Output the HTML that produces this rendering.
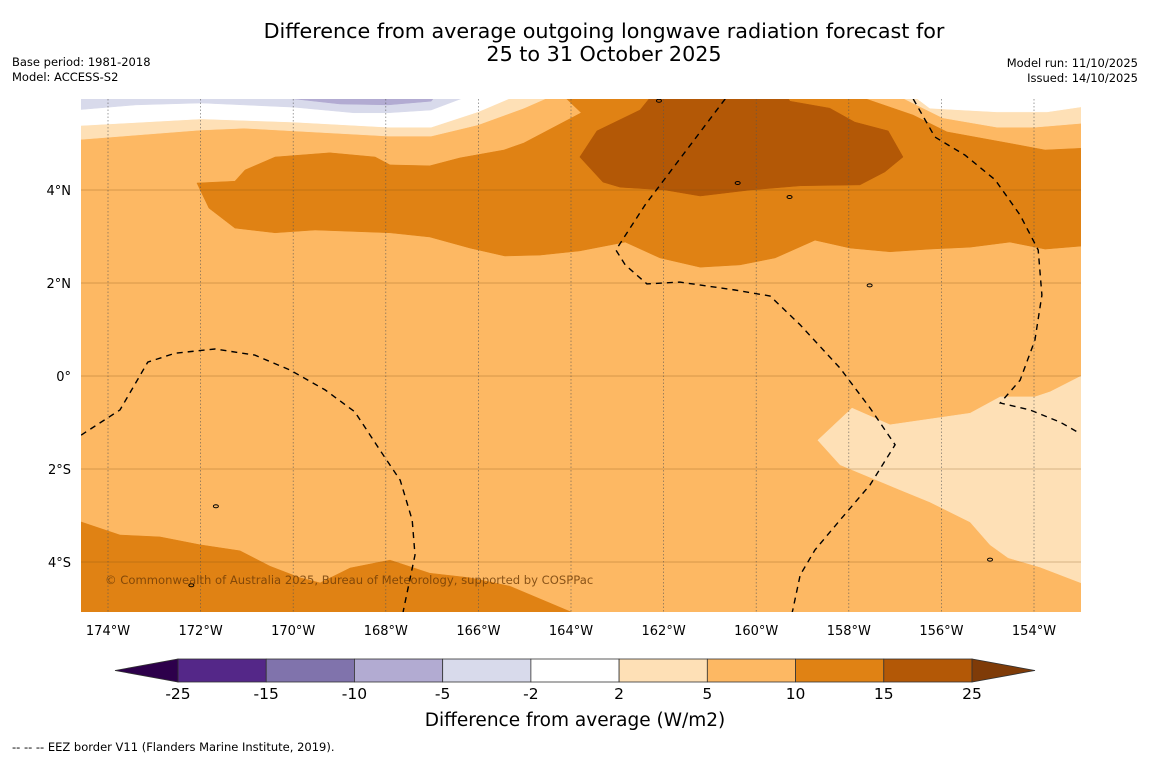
<!DOCTYPE html>
<html><head><meta charset="utf-8">
<style>
html,body{margin:0;padding:0;background:#fff;}
body{width:1150px;height:758px;overflow:hidden;font-family:"DejaVu Sans","Liberation Sans",sans-serif;}
svg text{font-family:"DejaVu Sans","Liberation Sans",sans-serif;}
</style></head>
<body>
<svg id="chart" width="1150" height="758" xmlns="http://www.w3.org/2000/svg">
<rect width="1150" height="758" fill="#fff"/>
<text x="604" y="38" font-size="20.7" text-anchor="middle" fill="#000">Difference from average outgoing longwave radiation forecast for</text>
<text x="604" y="61" font-size="20.7" text-anchor="middle" fill="#000">25 to 31 October 2025</text>
<text x="12" y="66" font-size="11.5">Base period: 1981-2018</text>
<text x="12" y="81" font-size="11.5">Model: ACCESS-S2</text>
<text x="1138" y="67" font-size="11.5" text-anchor="end">Model run: 11/10/2025</text>
<text x="1138" y="82" font-size="11.5" text-anchor="end">Issued: 14/10/2025</text>
<defs><clipPath id="plotclip"><rect x="81" y="99" width="1000" height="513"/></clipPath></defs>
<g id="map" clip-path="url(#plotclip)"></g>
<g id="axes"></g>
<g id="cbar"></g>
<text x="105" y="584" font-size="11.6" fill="#6b3a05" fill-opacity="0.8">© Commonwealth of Australia 2025, Bureau of Meteorology, supported by COSPPac</text>
<text x="575" y="726" font-size="18.5" text-anchor="middle">Difference from average (W/m2)</text>
<text x="12" y="751" font-size="11.5">--  --  -- EEZ border V11 (Flanders Marine Institute, 2019).</text>
</svg>
<script>
const NS="http://www.w3.org/2000/svg";
// axis data
const lonTicks=[-174,-172,-170,-168,-166,-164,-162,-160,-158,-156,-154];
const lonLabels=["174°W","172°W","170°W","168°W","166°W","164°W","162°W","160°W","158°W","156°W","154°W"];
const latTicks=[4,2,0,-2,-4];
const latLabels=["4°N","2°N","0°","2°S","4°S"];
// colorbar data
const cbLevels=["-25","-15","-10","-5","-2","2","5","10","15","25"];
const cbColors=["#542788","#8073ac","#b2abd2","#d8daeb","#ffffff","#fee0b6","#fdb863","#e08214","#b35806"];
const cbUnder="#2d004b", cbOver="#7f3b08";
// contour region data [lon,lat]
const bgColor="#fdb863";
const paleLeft=[[-174.7,5.08],[-171.99,5.29],[-171.06,5.33],[-167.95,5.16],[-167.02,5.16],[-166.01,5.40],[-165.02,5.76],[-164.24,6.1],[-174.7,6.1]];
const paleRight=[[-156.9,6.1],[-156.8,5.96],[-155.97,5.55],[-154.80,5.35],[-153.98,5.35],[-152.9,5.44],[-152.9,6.1]];
const whiteLeft=[[-174.7,5.38],[-171.99,5.53],[-169.98,5.46],[-167.95,5.35],[-167.02,5.35],[-166.01,5.68],[-165.02,6.1],[-174.7,6.1]];
const whiteRight=[[-156.7,6.1],[-156.25,5.76],[-154.80,5.68],[-153.72,5.68],[-152.9,5.8],[-152.9,6.1]];
const lavender=[[-174.7,5.72],[-173.4,5.83],[-171.99,5.87],[-169.98,5.78],[-168.69,5.66],[-167.95,5.66],[-167.02,5.72],[-166.01,6.1],[-174.7,6.1]];
const lilac=[[-169.98,6.1],[-169.98,5.96],[-168.99,5.85],[-167.95,5.83],[-167.02,5.91],[-166.87,6.1]];
const orangeTop=[[-172.08,4.15],[-171.82,3.61],[-171.26,3.18],[-170.39,3.08],[-169.53,3.14],[-167.91,3.08],[-167.05,2.99],[-166.18,2.75],[-165.43,2.58],[-164.67,2.60],[-163.81,2.69],[-162.83,2.88],[-162.08,2.54],[-161.21,2.34],[-160.35,2.39],[-159.59,2.54],[-158.73,2.92],[-157.97,2.75],[-157.11,2.67],[-156.25,2.73],[-155.38,2.77],[-154.52,2.88],[-153.76,2.73],[-152.9,2.80],[-152.9,4.90],[-153.76,4.86],[-154.45,4.99],[-155.88,5.25],[-156.61,5.61],[-158.04,6.1],[-164.24,6.1],[-163.78,5.66],[-165.02,5.01],[-165.45,4.86],[-166.40,4.69],[-167.05,4.52],[-167.91,4.54],[-168.23,4.71],[-169.21,4.80],[-170.39,4.71],[-171.04,4.43],[-171.26,4.19]];
const darkest=[[-163.81,4.71],[-163.44,5.27],[-162.51,5.72],[-162.2,6.1],[-159.4,6.1],[-159.27,5.91],[-158.41,5.76],[-157.87,5.46],[-157.15,5.27],[-156.83,4.71],[-157.22,4.39],[-157.76,4.11],[-159.05,4.09],[-160.13,4.0],[-161.21,3.87],[-161.97,4.0],[-162.94,4.06],[-163.31,4.17]];
const paleLowerRight=[[-152.98,0],[-153.65,-0.34],[-153.98,-0.45],[-154.73,-0.45],[-155.38,-0.80],[-157.11,-1.05],[-157.93,-0.69],[-158.67,-1.38],[-158.19,-1.91],[-156.89,-2.45],[-156.25,-2.71],[-155.38,-3.14],[-154.95,-3.63],[-154.56,-3.91],[-153.87,-4.11],[-152.98,-4.45],[-152.9,-4.45],[-152.9,0]];
const orangeBottom=[[-174.7,-3.10],[-173.74,-3.42],[-172.88,-3.46],[-172.01,-3.63],[-171.15,-3.76],[-170.50,-4.09],[-169.85,-4.34],[-169.42,-4.45],[-168.77,-4.13],[-167.91,-3.96],[-167.05,-4.24],[-166.18,-4.34],[-165.32,-4.52],[-163.70,-5.2],[-174.7,-5.2]];
// EEZ borders
const eezA=[[-160.67,5.96],[-162.40,3.68],[-163.03,2.71],[-162.83,2.39],[-162.36,1.98],[-161.65,2.02],[-160.46,1.85],[-159.70,1.72],[-159.05,1.10],[-158.19,0.17],[-157.54,-0.69],[-157.00,-1.48],[-157.54,-2.34],[-158.19,-3.10],[-158.73,-3.74],[-159.05,-4.28],[-159.21,-5.03],[-159.25,-5.2]];
const eezB=[[-156.61,5.96],[-156.14,5.14],[-155.49,4.75],[-154.84,4.22],[-154.30,3.46],[-153.91,2.71],[-153.83,1.74],[-153.98,0.77],[-154.30,-0.09],[-154.73,-0.58],[-154.09,-0.73],[-153.44,-0.99],[-153.07,-1.20]];
const eezC=[[-174.58,-1.27],[-173.74,-0.73],[-173.14,0.30],[-172.55,0.49],[-171.69,0.58],[-170.83,0.45],[-170.07,0.13],[-169.31,-0.30],[-168.67,-0.77],[-168.13,-1.59],[-167.69,-2.24],[-167.43,-3.10],[-167.37,-3.85],[-167.61,-4.99],[-167.65,-5.2]];
const islands=[[-157.55,1.95],[-159.28,3.85],[-171.67,-2.80],[-172.2,-4.5],[-154.95,-3.95],[-162.1,5.92],[-160.4,4.15]];

function xs(lon){return 108+(lon+174)*46.3;}
function ys(lat){return 376-lat*46.5;}
function pts(a){return a.map(p=>xs(p[0]).toFixed(1)+","+ys(p[1]).toFixed(1)).join(" ");}
const map=document.getElementById("map");
function poly(arr,fill,name){
  const e=document.createElementNS(NS,"polygon");
  e.setAttribute("points",pts(arr));e.setAttribute("fill",fill);
  e.setAttribute("stroke",fill);e.setAttribute("stroke-width","0.5");
  
  
  map.appendChild(e);
}
const bg=document.createElementNS(NS,"rect");
bg.setAttribute("x",81);bg.setAttribute("y",99);bg.setAttribute("width",1000);bg.setAttribute("height",513);bg.setAttribute("fill",bgColor);


map.appendChild(bg);
poly(paleLeft,"#fee0b6","contour-2-5-north-west");
poly(paleRight,"#fee0b6","contour-2-5-north-east");
poly(whiteLeft,"#ffffff","contour-neutral-north-west");
poly(whiteRight,"#ffffff","contour-neutral-north-east");
poly(lavender,"#d8daeb","contour-minus-2-5");
poly(lilac,"#b2abd2","contour-minus-5-10");
poly(orangeTop,"#e08214","contour-10-15-north");
poly(darkest,"#b35806","contour-15-25");
poly(paleLowerRight,"#fee0b6","contour-2-5-south-east");
poly(orangeBottom,"#e08214","contour-10-15-south");
// grid
lonTicks.forEach(l=>{
  const g=document.createElementNS(NS,"line");
  g.setAttribute("x1",xs(l));g.setAttribute("x2",xs(l));g.setAttribute("y1",99);g.setAttribute("y2",612);
  g.setAttribute("stroke","#555");g.setAttribute("stroke-width","0.7");g.setAttribute("stroke-dasharray","1.5,2");g.setAttribute("opacity","0.8");
  
  
  map.appendChild(g);
});
latTicks.forEach(l=>{
  const g=document.createElementNS(NS,"line");
  g.setAttribute("x1",81);g.setAttribute("x2",1081);g.setAttribute("y1",ys(l));g.setAttribute("y2",ys(l));
  g.setAttribute("stroke","#7a4a10");g.setAttribute("stroke-width","0.5");g.setAttribute("opacity","0.6");
  
  
  map.appendChild(g);
});
function line(arr,name){
  const e=document.createElementNS(NS,"polyline");
  e.setAttribute("points",pts(arr));e.setAttribute("fill","none");e.setAttribute("stroke","#000");
  e.setAttribute("stroke-width","1.4");e.setAttribute("stroke-dasharray","6,5");
  
  
  map.appendChild(e);
}
line(eezA,"eez-border-kiribati-west");
line(eezB,"eez-border-kiribati-east");
line(eezC,"eez-border-tokelau");
islands.forEach(p=>{
  const e=document.createElementNS(NS,"ellipse");
  e.setAttribute("cx",xs(p[0]));e.setAttribute("cy",ys(p[1]));e.setAttribute("rx",2.5);e.setAttribute("ry",1.5);
  e.setAttribute("fill","none");e.setAttribute("stroke","#000");e.setAttribute("stroke-width","1");
  
  
  map.appendChild(e);
});
// axes labels
const axes=document.getElementById("axes");
lonTicks.forEach((l,i)=>{
  const t=document.createElementNS(NS,"text");
  t.setAttribute("x",xs(l));t.setAttribute("y",635);t.setAttribute("font-size","13");t.setAttribute("text-anchor","middle");
  t.textContent=lonLabels[i];
  
  
  axes.appendChild(t);
});
latTicks.forEach((l,i)=>{
  const t=document.createElementNS(NS,"text");
  t.setAttribute("x",71);t.setAttribute("y",ys(l)+5);t.setAttribute("font-size","13");t.setAttribute("text-anchor","end");
  t.textContent=latLabels[i];
  
  
  axes.appendChild(t);
});
// colorbar
const cb=document.getElementById("cbar");
const cx0=178,cx1=972,cy0=659,cy1=682,cw=(cx1-cx0)/cbColors.length;
cbColors.forEach((c,i)=>{
  const r=document.createElementNS(NS,"rect");
  r.setAttribute("x",cx0+i*cw);r.setAttribute("y",cy0);r.setAttribute("width",cw);r.setAttribute("height",cy1-cy0);
  r.setAttribute("fill",c);r.setAttribute("stroke","#333");r.setAttribute("stroke-width","0.8");
  
  
  cb.appendChild(r);
});
const under=document.createElementNS(NS,"polygon");
under.setAttribute("points",`${cx0},${cy0} ${cx0},${cy1} 115,${(cy0+cy1)/2}`);
under.setAttribute("fill",cbUnder);under.setAttribute("stroke","#333");under.setAttribute("stroke-width","0.8");


cb.appendChild(under);
const over=document.createElementNS(NS,"polygon");
over.setAttribute("points",`${cx1},${cy0} ${cx1},${cy1} 1035,${(cy0+cy1)/2}`);
over.setAttribute("fill",cbOver);over.setAttribute("stroke","#333");over.setAttribute("stroke-width","0.8");


cb.appendChild(over);
cbLevels.forEach((l,i)=>{
  const t=document.createElementNS(NS,"text");
  t.setAttribute("x",cx0+i*cw);t.setAttribute("y",699);t.setAttribute("font-size","15.5");t.setAttribute("text-anchor","middle");
  t.textContent=l;
  
  
  cb.appendChild(t);
});
</script>
</body></html>
